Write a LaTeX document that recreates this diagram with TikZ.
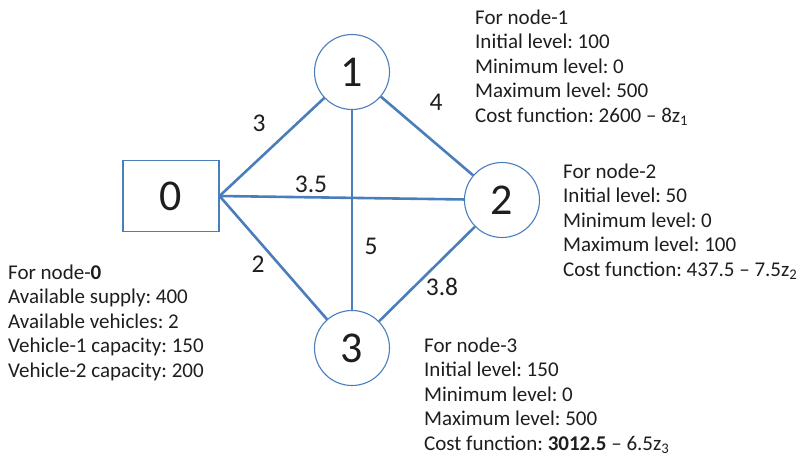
\documentclass[tikz,border=0pt]{standalone}
\usepackage{fontspec}
\setmainfont{Carlito}
\definecolor{edgeblue}{RGB}{74,126,187}
\definecolor{txt}{RGB}{30,30,30}
\begin{document}
\frenchspacing
\begin{tikzpicture}[x=1pt,y=-1pt,
  every node/.style={text=txt},
  vbox/.style={draw=edgeblue, line width=1.1pt, minimum width=96pt, minimum height=71pt, inner sep=0pt, font=\fontsize{44}{50}\selectfont},
  vcirc/.style={circle, draw=edgeblue, line width=1.1pt, minimum size=75pt, inner sep=0pt, font=\fontsize{44}{50}\selectfont},
  link/.style={draw=edgeblue, line width=2.6pt},
  elabel/.style={font=\fontsize{25.5}{30}\selectfont, inner sep=0pt},
  info/.style={font=\fontsize{21}{25}\selectfont, inner sep=0pt, anchor=base west}]
\useasboundingbox (0,0) rectangle (803,458);
\node[vbox] (n0) at (171,196) {0};
\node[vcirc] (n1) at (352,72) {1};
\node[vcirc] (n2) at (502,200) {2};
\node[vcirc] (n3) at (352,348) {3};
\draw[link] (n0.east) -- (n1);
\draw[link] (n0.east) -- (n2);
\draw[link] (n0.east) -- (n3);
\draw[link] (n1) -- (n3);
\draw[link] (n1) -- (n2);
\draw[link] (n2) -- (n3);
\node[elabel] (e01) at (259,123) {3};
\node[elabel] (e12) at (436,102) {4};
\node[elabel] (e02) at (311,184) {3.5};
\node[elabel] (e13) at (371,246) {5};
\node[elabel] (e03) at (258,264) {2};
\node[elabel] (e23) at (442,287) {3.8};
\foreach \t [count=\i from 0] in {For node-1, Initial level: 100, Minimum level: 0, Maximum level: 500, Cost function: 2600 – 8z\textsubscript{1}}
  \node[info] (a\i) at (475,{24+24.6*\i}) {\t};
\foreach \t [count=\i from 0] in {For node-2, Initial level: 50, Minimum level: 0, Maximum level: 100, Cost function: 437.5 – 7.5z\textsubscript{2}}
  \node[info] (b\i) at (563,{178+24.6*\i}) {\t};
\foreach \t [count=\i from 0] in {For node-\textbf{0}, Available supply: 400, Available vehicles: 2, Vehicle-1 capacity: 150, Vehicle-2 capacity: 200}
  \node[info] (c\i) at (8,{279+24.6*\i}) {\t};
\foreach \t [count=\i from 0] in {For node-3, Initial level: 150, Minimum level: 0, Maximum level: 500, Cost function: \textbf{3012.5} – 6.5z\textsubscript{3}}
  \node[info] (d\i) at (424,{352+24.6*\i}) {\t};
\end{tikzpicture}
\end{document}
